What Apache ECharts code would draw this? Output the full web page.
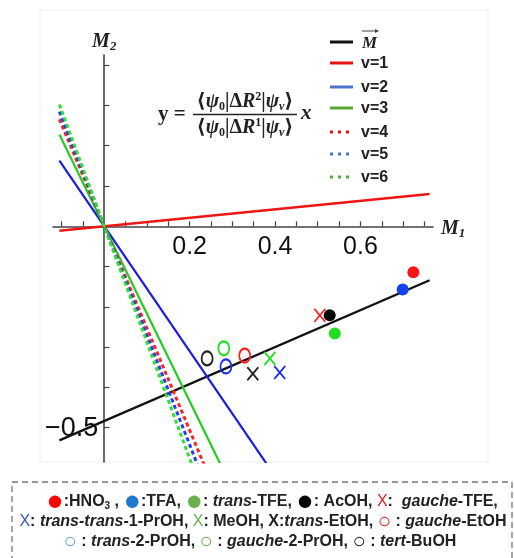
<!DOCTYPE html>
<html>
<head>
<meta charset="utf-8">
<script src="https://cdn.jsdelivr.net/npm/echarts@6/dist/echarts.min.js"></script>
<style>html,body{margin:0;padding:0;background:#fff;}#c{width:514px;height:558px;}</style>
</head>
<body>
<div id="c"></div>
<script>
// ---- data ----
const lineNames = ['M', 'v=1', 'v=2', 'v=3', 'v=4', 'v=5', 'v=6'];
const lineSlopes = [0.458, 0.105, -1.55, -2.17, -2.53, -2.71, -2.88];
const lineIntercepts = [-0.483, 0, 0, 0, 0, 0, 0];
const lineXRange = [-0.105, 0.762];

const filledNames = ['HNO3', 'TFA', 'trans-TFE', 'AcOH'];
const filledX = [0.724, 0.699, 0.540, 0.528];
const filledY = [-0.114, -0.157, -0.266, -0.221];

const crossNames = ['gauche-TFE', 'trans-trans-1-PrOH', 'MeOH', 'trans-EtOH'];
const crossX = [0.505, 0.411, 0.388, 0.348];
const crossY = [-0.221, -0.363, -0.328, -0.366];

const ringNames = ['gauche-EtOH', 'trans-2-PrOH', 'gauche-2-PrOH', 'tert-BuOH'];
const ringX = [0.329, 0.285, 0.280, 0.241];
const ringY = [-0.321, -0.348, -0.303, -0.328];

const xTicks = [-0.1, -0.05, 0.05, 0.1, 0.15, 0.2, 0.25, 0.3, 0.35, 0.4, 0.45, 0.5, 0.55, 0.6, 0.65, 0.7, 0.75];
const xTickLabels = [0.2, 0.4, 0.6];
const yTicks = [-0.5, -0.4, -0.3, -0.2, -0.1, 0.1, 0.2, 0.3, 0.4];
const yTickLabels = [-0.5];

// ---- styles ----
const lineColors = ['#111111', '#ee1515', '#1c1ce0', '#22cc22', '#ff2020', '#2040e8', '#33dd33'];
const lineTypes = ['solid', 'solid', 'solid', 'solid', [4, 3], [4, 3], [4, 3]];
const lineWidths = [2.4, 2.4, 2.2, 2.2, 3, 3, 3];
const filledColors = ['#ff1515', '#1540ee', '#22dd22', '#000000'];
const crossColors = ['#ff2020', '#2030ee', '#22dd22', '#222222'];
const ringColors = ['#ff2020', '#2030ee', '#22dd22', '#222222'];

const legendColors = ['#111111', '#e81010', '#4a74c9', '#5aa832', '#e81010', '#4a74c9', '#5aa832'];
const serif = '"Liberation Serif", "DejaVu Serif", serif';
const sans = '"Liberation Sans", Arial, sans-serif';

const series = [];
lineNames.forEach((n, i) => {
  const data = lineXRange.map(x => [x, lineIntercepts[i] + lineSlopes[i] * x]);
  series.push({
    type: 'line', name: n, data: data, showSymbol: false, symbol: 'none',
    clip: true, z: i === 0 ? 2 : 3,
    lineStyle: { color: lineColors[i], width: lineWidths[i], type: lineTypes[i], cap: 'butt' },
    animation: false
  });
});
filledNames.forEach((n, i) => {
  series.push({
    type: 'scatter', name: n, data: [[filledX[i], filledY[i]]], symbol: 'circle', symbolSize: 12,
    itemStyle: { color: filledColors[i], opacity: 1 }, z: 5, animation: false
  });
});
crossNames.forEach((n, i) => {
  series.push({
    type: 'scatter', name: n, data: [[crossX[i], crossY[i]]],
    symbol: 'path://M0,0L10,13M10,0L0,13', symbolSize: [11, 13],
    itemStyle: { color: 'rgba(0,0,0,0)', borderColor: crossColors[i], borderWidth: 1.8, opacity: 1 }, z: 5, animation: false
  });
});
ringNames.forEach((n, i) => {
  series.push({
    type: 'scatter', name: n, data: [[ringX[i], ringY[i]]], symbol: 'circle', symbolSize: [11, 14],
    itemStyle: { color: 'rgba(0,0,0,0)', borderColor: ringColors[i], borderWidth: 2, opacity: 1 }, z: 5, animation: false
  });
});

// ---- legend graphics (top right) ----
const legRows = [42, 63, 87, 108, 132, 154, 177];
const graphics = [];
graphics.push({ type: 'rect', shape: { x: 40, y: 10, width: 448, height: 452 }, style: { fill: 'none', stroke: '#eeeeee', lineWidth: 1 }, z: -1 });
lineNames.forEach((n, i) => {
  const dotted = i >= 4;
  graphics.push({
    type: 'line', shape: { x1: 330, y1: legRows[i], x2: 353, y2: legRows[i] },
    style: { stroke: legendColors[i], lineWidth: 3, lineDash: dotted ? [3, 5] : null }
  });
  if (i === 0) {
    graphics.push({ type: 'text', x: 362, y: legRows[i] + 2, style: { text: 'M', font: 'italic bold 17px ' + serif, fill: '#222', verticalAlign: 'middle' } });
    graphics.push({ type: 'line', shape: { x1: 362, y1: 31, x2: 378, y2: 31 }, style: { stroke: '#444', lineWidth: 1 } });
    graphics.push({ type: 'polygon', shape: { points: [[379, 31], [375, 29], [375, 33]] }, style: { fill: '#444' } });
  } else {
    graphics.push({ type: 'text', x: 361, y: legRows[i] + 1, style: { text: n, font: 'bold 16px ' + sans, fill: '#222', verticalAlign: 'middle' } });
  }
});

// ---- equation ----
const eqRich = {
  b: { fontFamily: serif, fontWeight: 'bold', fontStyle: 'italic', fontSize: 20, fill: '#222', lineHeight: 22, verticalAlign: 'middle' },
  r: { fontFamily: serif, fontWeight: 'bold', fontSize: 20, fill: '#222', lineHeight: 22, verticalAlign: 'middle' },
  sub: { fontFamily: serif, fontWeight: 'bold', fontSize: 12, fill: '#222', lineHeight: 22, verticalAlign: 'bottom' },
  subi: { fontFamily: serif, fontWeight: 'bold', fontStyle: 'italic', fontSize: 12, fill: '#222', lineHeight: 22, verticalAlign: 'bottom' },
  sup: { fontFamily: serif, fontWeight: 'bold', fontSize: 12, fill: '#222', lineHeight: 22, verticalAlign: 'top' }
};
graphics.push({ type: 'text', x: 158, y: 115, style: { text: 'y =', font: 'bold 21px ' + serif, fill: '#222', verticalAlign: 'middle' } });
graphics.push({ type: 'text', x: 245, y: 102, style: { text: '{r|⟨}{b|ψ}{sub|0}{r||Δ}{b|R}{sup|2}{r||}{b|ψ}{subi|v}{r|⟩}', rich: eqRich, align: 'center', verticalAlign: 'middle' } });
graphics.push({ type: 'line', shape: { x1: 193, y1: 114.5, x2: 297, y2: 114.5 }, style: { stroke: '#222', lineWidth: 1.5 } });
graphics.push({ type: 'text', x: 245, y: 128, style: { text: '{r|⟨}{b|ψ}{sub|0}{r||Δ}{b|R}{sup|1}{r||}{b|ψ}{subi|v}{r|⟩}', rich: eqRich, align: 'center', verticalAlign: 'middle' } });
graphics.push({ type: 'text', x: 301, y: 114, style: { text: 'x', font: 'italic bold 21px ' + serif, fill: '#222', verticalAlign: 'middle' } });

// ---- bottom legend box ----
graphics.push({ type: 'rect', shape: { x: 12, y: 482, width: 500, height: 100 }, style: { fill: 'none', stroke: '#777', lineWidth: 1.3, lineDash: [6, 4] } });
const fs = 16;
const lgRich = {
  n: { fontFamily: sans, fontWeight: 'bold', fontSize: fs, fill: '#222' },
  i: { fontFamily: sans, fontWeight: 'bold', fontStyle: 'italic', fontSize: fs, fill: '#222' },
  s3: { fontFamily: sans, fontWeight: 'bold', fontSize: 10, fill: '#222', verticalAlign: 'middle', padding: [9, 0, 0, 0] },
  dR: { fontFamily: sans, fontSize: 29, fill: '#ff0000' },
  dB: { fontFamily: sans, fontSize: 29, fill: '#1f78d0' },
  dG: { fontFamily: sans, fontSize: 29, fill: '#6ab04c' },
  dK: { fontFamily: sans, fontSize: 29, fill: '#000' },
  xR: { fontFamily: sans, fontSize: 16, fill: '#e02020' },
  xB: { fontFamily: sans, fontSize: 16, fill: '#3a5aa8' },
  xG: { fontFamily: sans, fontSize: 16, fill: '#6ab04c' },
  xK: { fontFamily: sans, fontSize: 16, fill: '#222' },
  oR: { fontFamily: sans, fontSize: 22, fill: '#e02020' },
  oB: { fontFamily: sans, fontSize: 22, fill: '#6fa0d8' },
  oG: { fontFamily: sans, fontSize: 22, fill: '#6ab04c' },
  oK: { fontFamily: sans, fontSize: 22, fill: '#222' }
};
const legendRow1 = '{dR|●}{n|:HNO}{s3|3}{n| , }{dB|●}{n|:TFA, }{dG|●}{n|: }{i|trans}{n|-TFE, }{dK|●}{n|: AcOH, }{xR|X}{n|:  }{i|gauche}{n|-TFE,}';
const legendRow2 = '{xB|X}{n|: }{i|trans-trans}{n|-1-PrOH, }{xG|X}{n|: MeOH, X:}{i|trans}{n|-EtOH, }{oR|○}{n| : }{i|gauche}{n|-EtOH}';
const legendRow3 = '{oB|○}{n| : }{i|trans}{n|-2-PrOH, }{oG|○}{n| : }{i|gauche}{n|-2-PrOH, }{oK|○}{n| : }{i|tert}{n|-BuOH}';
graphics.push({ type: 'text', x: 272, y: 502, style: { text: legendRow1, rich: lgRich, align: 'center', verticalAlign: 'middle' } });
graphics.push({ type: 'text', x: 263, y: 522, style: { text: legendRow2, rich: lgRich, align: 'center', verticalAlign: 'middle' } });
graphics.push({ type: 'text', x: 260, y: 542, style: { text: legendRow3, rich: lgRich, align: 'center', verticalAlign: 'middle' } });

const axisNameRich = {
  m: { fontFamily: serif, fontWeight: 'bold', fontStyle: 'italic', fontSize: 20, color: '#222', lineHeight: 22, verticalAlign: 'middle' },
  s: { fontFamily: serif, fontWeight: 'bold', fontStyle: 'italic', fontSize: 13, color: '#222', lineHeight: 22, verticalAlign: 'bottom' }
};

const chart = echarts.init(document.getElementById('c'), null, { renderer: 'canvas' });
chart.setOption({
  animation: false,
  backgroundColor: '#fff',
  grid: { left: 53, right: 81, top: 55, bottom: 96, containLabel: false },
  xAxis: {
    type: 'value', min: -0.12, max: 0.77,
    name: '{m|M}{s|1}', nameLocation: 'end', nameGap: 8,
    nameTextStyle: { rich: axisNameRich, verticalAlign: 'middle', align: 'left', padding: [6, 0, 0, 0] },
    axisLine: { onZero: true, lineStyle: { color: '#444', width: 1.6 } },
    axisTick: { show: true, inside: true, length: 5, customValues: xTicks, lineStyle: { color: '#444', width: 1.2 } },
    axisLabel: { show: false },
    splitLine: { show: false }
  },
  yAxis: {
    type: 'value', min: -0.585, max: 0.425,
    name: '{m|M}{s|2}', nameLocation: 'end', nameGap: 2,
    nameTextStyle: { rich: axisNameRich, align: 'center' },
    axisLine: { onZero: true, lineStyle: { color: '#444', width: 1.6 } },
    axisTick: { show: true, inside: true, length: 5, customValues: yTicks, lineStyle: { color: '#444', width: 1.2 } },
    axisLabel: { show: false },
    splitLine: { show: false }
  },
  series: series
});

// tick labels placed at the axis (crossing at zero) via the chart's own scales
xTickLabels.forEach(v => {
  const p = chart.convertToPixel({ gridIndex: 0 }, [v, 0]);
  graphics.push({ type: 'text', x: p[0], y: p[1] + 8, style: { text: String(v), font: '25px ' + sans, fill: '#111', align: 'center', verticalAlign: 'top' } });
});
yTickLabels.forEach(v => {
  const p = chart.convertToPixel({ gridIndex: 0 }, [0, v]);
  graphics.push({ type: 'text', x: p[0] - 6, y: p[1] + 1, style: { text: (v < 0 ? '−' : '') + String(Math.abs(v)), font: '27px ' + sans, fill: '#111', align: 'right', verticalAlign: 'middle' } });
});
chart.setOption({ graphic: graphics });
</script>
</body>
</html>
